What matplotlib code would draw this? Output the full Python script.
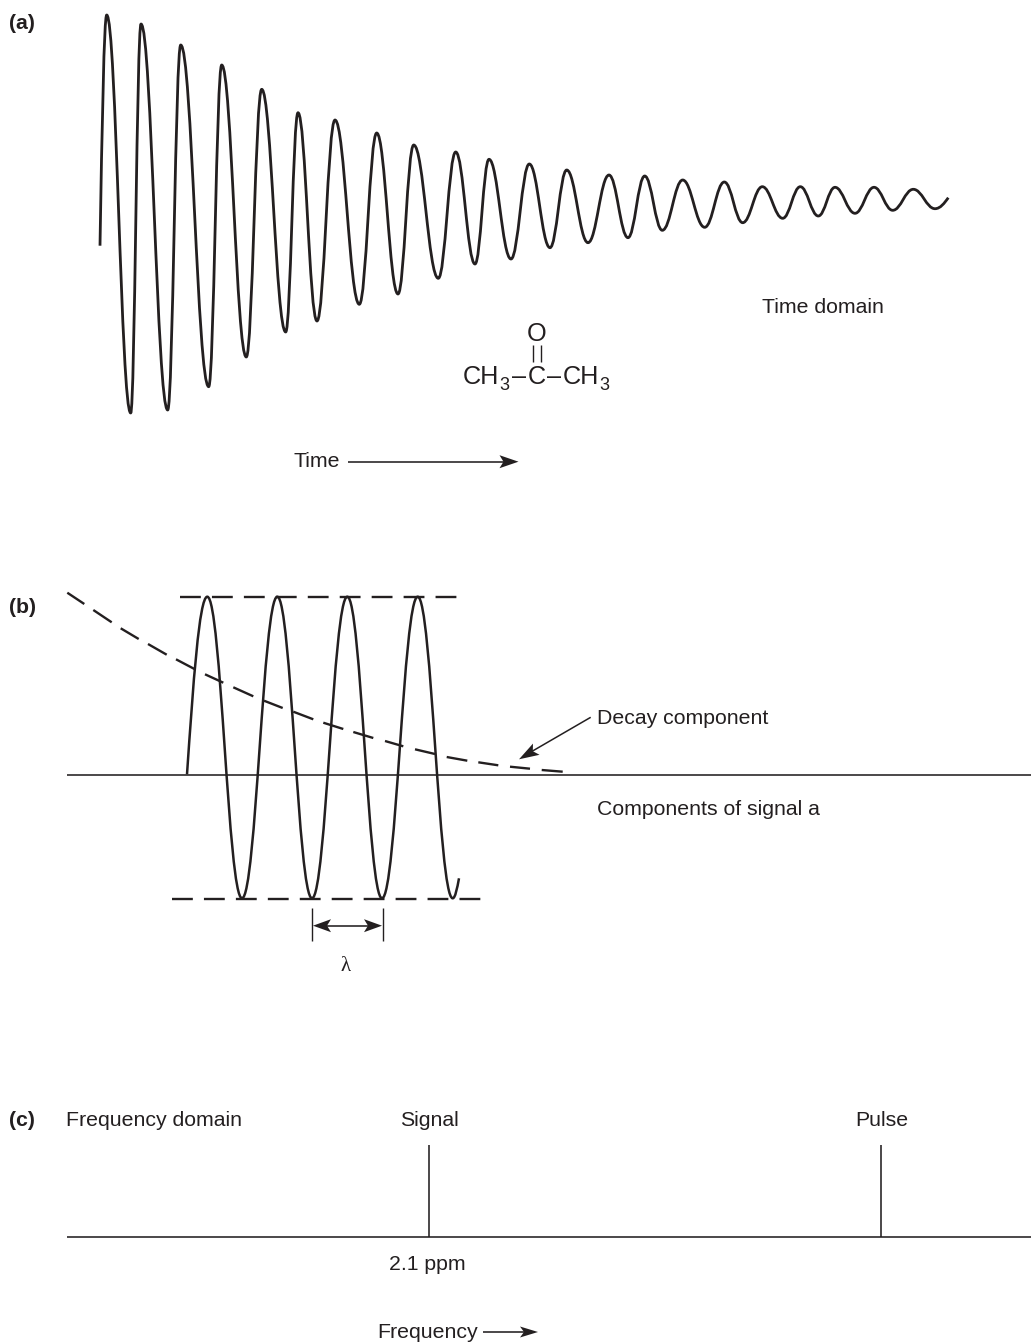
import numpy as np
import matplotlib
matplotlib.use("Agg")
import matplotlib.pyplot as plt
from matplotlib.path import Path
from matplotlib.patches import PathPatch, Polygon

plt.rcParams['font.family'] = ['Liberation Sans', 'DejaVu Sans']
plt.rcParams['lines.scale_dashes'] = False

INK = '#231f20'

# Panel (a): free induction decay, start / successive extrema / end
fid_t = [100, 106.7, 130.7, 141, 167.7, 180.7, 208.7, 221.7, 246.3, 261.7, 285.7, 298, 317,
         335, 359.3, 376.7, 398, 413.7, 438.3, 455.7, 475, 489, 511, 529.3, 550, 566.7, 588,
         609, 628, 644.7, 662.3, 682.7, 704.7, 724.3, 742.7, 762.3, 782.7, 800.3, 818.3,
         835, 855, 874, 892.7, 913.3, 935, 948.3]
fid_y = [245.7, 15, 413, 24, 410, 45, 386.7, 65, 357, 89.3, 332, 112.7, 321,
         120, 304.3, 133, 294, 145, 278.3, 152, 264, 159.3, 259, 164, 247.7, 170, 242.7,
         175, 237.7, 176, 230.3, 180, 227.3, 182, 222.7, 186.7, 218.3, 186.7, 216,
         187.3, 213.3, 187.3, 210.3, 189.3, 208.7, 197.7]

# Panel (b): oscillating component, start / extrema / end
osc_t = [187, 207.3, 242, 277.3, 312, 347.3, 382, 417.7, 452.7, 459]
osc_y = [774.3, 596.7, 898.3, 596.7, 898.3, 596.7, 898.3, 596.7, 898.3, 878.3]

# Panel (b): decay component, read dash by dash (start and end of each dash)
decay_x0 = [67.3, 93.3, 120.7, 148, 176, 205, 233.3, 264, 293.3, 323.3, 353.3, 385, 415,
            446.7, 478.3, 510, 541.7]
decay_x1 = [84.3, 111.7, 138.7, 166.7, 195, 223.3, 253.3, 282.7, 313.3, 343.3, 373.3, 403.3,
            435, 467.3, 498.3, 530, 562.7]
decay_y0 = [592.7, 610, 628.3, 644, 659.3, 674.3, 687.3, 700.7, 711.7, 722.7, 732, 741,
            749.3, 757, 762.3, 766.7, 770]
decay_y1 = [604, 622.3, 639, 654.7, 669.3, 682.7, 696.3, 708, 719.3, 729, 738, 746.3,
            754, 760.7, 765.3, 768.7, 771.7]

env_top_y = 596.7
env_top_x = [180, 457]
env_bot_y = 899
env_bot_x = [172.3, 481.7]
base_b_y = 775
base_c_y = 1237
base_x = [67, 1031]

# Panel (c): spectrum sticks
stick_x = [429, 881]
stick_top = [1145, 1145]

fig = plt.figure(figsize=(10.31, 13.43), dpi=100)
ax = fig.add_axes([0, 0, 1, 1])
ax.set_xlim(0, 1031)
ax.set_ylim(1343, 0)
ax.axis('off')


def wave(t, y, lw):
    verts = [(t[0], y[0])]
    codes = [Path.MOVETO]
    n = len(t)
    for i in range(n - 1):
        dx = t[i + 1] - t[i]
        dy = y[i + 1] - y[i]
        if i == 0:
            c1 = (t[i] + 0.3 * dx, y[i] + 0.5 * dy)
            c2 = (t[i + 1] - 0.4 * dx, y[i + 1])
        elif i == n - 2:
            c1 = (t[i] + 0.4 * dx, y[i])
            c2 = (t[i + 1] - 0.3 * dx, y[i + 1] - 0.5 * dy)
        else:
            c1 = (t[i] + 0.4 * dx, y[i])
            c2 = (t[i + 1] - 0.4 * dx, y[i + 1])
        verts += [c1, c2, (t[i + 1], y[i + 1])]
        codes += [Path.CURVE4] * 3
    ax.add_patch(PathPatch(Path(verts, codes), fc='none', ec=INK, lw=lw,
                           capstyle='butt', joinstyle='round'))


def arrow_head(tip, frm, length=18, width=12.5, notch=4):
    tip = np.array(tip, float)
    d = tip - np.array(frm, float)
    d /= np.hypot(*d)
    n = np.array([-d[1], d[0]])
    back = tip - d * length
    pts = [tip, back + n * width / 2, tip - d * (length - notch), back - n * width / 2]
    ax.add_patch(Polygon(pts, closed=True, fc=INK, ec='none'))


def line(x, y, lw=1.15, **kw):
    ax.plot(x, y, color=INK, lw=lw, solid_capstyle='butt', dash_capstyle='butt', **kw)


def label(x, y, s, size=15.3, **kw):
    ax.text(x, y, s, fontsize=size, color=INK, va='baseline', **kw)


wave(fid_t, fid_y, 2.0)
wave(osc_t, osc_y, 1.8)

dash = (0, (15, 8))
line(env_top_x, [env_top_y] * 2, lw=1.7, linestyle=dash)
line(env_bot_x, [env_bot_y] * 2, lw=1.7, linestyle=dash)
for x0, x1, y0, y1 in zip(decay_x0, decay_x1, decay_y0, decay_y1):
    line([x0, x1], [y0, y1], lw=1.7)

line(base_x, [base_b_y] * 2)
line(base_x, [base_c_y] * 2)
for x, top in zip(stick_x, stick_top):
    line([x, x], [top, base_c_y])

# Time arrow
line([348, 508], [461.7, 461.7])
arrow_head((518.5, 461.7), (348, 461.7), length=19, width=13)
# Frequency arrow
line([483, 528], [1332, 1332])
arrow_head((538, 1332), (483, 1332), length=18, width=11)
# Decay arrow
line([590.7, 530], [717.3, 752.5], lw=1.1)
arrow_head((519, 759.3), (590.7, 717.3), length=20, width=13)
# Lambda bracket
for x in (312.3, 382.7):
    line([x, x], [908, 940.7], lw=1.0)
line([325, 370], [925.7, 925.7])
arrow_head((313, 925.7), (382, 925.7), length=18, width=13)
arrow_head((382, 925.7), (313, 925.7), length=18, width=13)

# Labels
label(9, 29, '(a)', weight='bold')
label(9, 613, '(b)', weight='bold')
label(9, 1126, '(c)', weight='bold')
label(762, 313, 'Time domain')
label(293, 467, 'Time')
label(597, 724, 'Decay component')
label(597, 815, 'Components of signal a')
label(66, 1126, 'Frequency domain')
label(400, 1126, 'Signal')
label(855, 1126, 'Pulse')
label(389, 1270, '2.1 ppm')
label(377, 1338, 'Frequency')
ax.text(346, 971, 'λ', fontsize=15, color=INK, family=['Liberation Serif', 'DejaVu Serif'],
        ha='center', va='baseline')

# Acetone structure
chem = 18.2
label(536.7, 340.7, 'O', size=chem, ha='center')
line([533.3, 533.3], [345, 361.7], lw=1.0)
line([540.7, 540.7], [345, 361.7], lw=1.0)
label(462.7, 384, 'CH', size=chem)
label(499.8, 390, '3', size=13)
label(512.5, 384, '–', size=chem)
label(528, 384, 'C', size=chem)
label(546.7, 384, '–', size=chem)
label(562.7, 384, 'CH', size=chem)
label(599.5, 390, '3', size=13)

fig.savefig('out.png', dpi=100, facecolor='white')
